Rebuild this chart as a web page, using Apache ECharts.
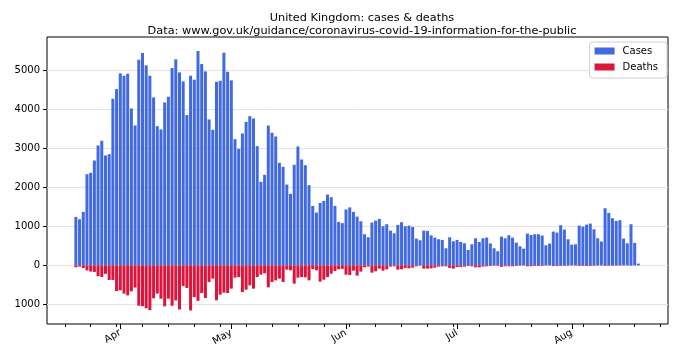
<!DOCTYPE html>
<html><head><meta charset="utf-8">
<script src="https://cdn.jsdelivr.net/npm/echarts@6/dist/echarts.min.js"></script>
<style>html,body{margin:0;padding:0;background:#fff}#c{width:680px;height:363px}</style>
</head><body><div id="c"></div>
<script>
// first bar date (20 Mar 2020), one bar per day
const firstDay = '2020-03-20';
const cases = [1240,1180,1368,2333,2368,2684,3068,3188,2812,2846,
4265,4513,4915,4855,4906,4017,3581,5265,5436,5120,
4855,4299,3564,3479,4171,4316,5051,5274,4940,4709,
3846,4855,4752,5487,5154,4966,3735,3470,4700,4726,
5444,4957,4735,3230,2983,3376,3675,3820,3760,3051,
2137,2316,3581,3393,3299,2624,2521,2068,1829,2573,
3043,2709,2564,2051,1521,1350,1598,1650,1812,1744,
1521,1111,1080,1430,1483,1368,1248,1128,795,718,
1094,1145,1188,1000,1051,889,820,1034,1103,1000,
1017,983,684,641,889,880,769,709,667,650,
436,718,615,650,598,564,393,538,692,598,
692,709,560,436,360,735,692,769,709,581,
487,427,812,778,795,795,761,513,556,863,
838,1026,915,667,530,538,1017,991,1043,1068,
923,692,607,1462,1342,1205,1137,1154,684,564,
1051,573,43];
const deaths = [50,35,70,130,160,170,280,300,220,375,
375,660,640,725,770,665,570,1035,1045,1100,
1150,845,725,855,1050,855,1035,900,1130,530,
580,1155,815,910,710,838,427,342,897,752,
700,709,598,316,299,684,624,513,598,299,
239,205,564,427,385,342,427,111,128,470,
316,299,308,385,94,128,419,368,299,214,
145,103,90,240,248,137,265,162,51,34,
188,154,85,137,103,34,26,111,103,68,
77,60,26,9,85,85,77,60,34,26,
26,68,85,43,43,34,17,26,51,51,
34,26,17,10,12,40,25,25,25,15,
8,6,25,25,18,18,15,6,5,20,
20,15,12,10,5,4,18,15,18,15,
12,5,4,15,12,10,8,8,3,2,
10,3,0];
const yTicks = [-1000, 0, 1000, 2000, 3000, 4000, 5000];
const monthTicks = ['2020-04-01','2020-05-01','2020-06-01','2020-07-01','2020-08-01'];
const monthLabels = ['Apr','May','Jun','Jul','Aug'];
const weekTicks = ['2020-03-17','2020-03-24','2020-03-31','2020-04-07','2020-04-14','2020-04-21','2020-04-28',
'2020-05-05','2020-05-12','2020-05-19','2020-05-26','2020-06-02','2020-06-09','2020-06-16','2020-06-23','2020-06-30',
'2020-07-07','2020-07-14','2020-07-21','2020-07-28','2020-08-04','2020-08-11','2020-08-18','2020-08-25'];

const DAY = 86400000;
const ts = s => Date.parse(s + 'T00:00:00Z');
const t0 = ts(firstDay);
const dates = cases.map((_, i) => t0 + i * DAY);
const monthTs = monthTicks.map(ts);
const weekTs = weekTicks.map(ts);
const xMin = ts('2020-04-01') - 19.8 * DAY;
const xMax = ts('2020-04-01') + 148 * DAY;

const font = 'DejaVu Sans';
const chart = echarts.init(document.getElementById('c'), null, {renderer: 'canvas'});
chart.setOption({
  animation: false,
  backgroundColor: '#fff',
  textStyle: {fontFamily: font},
  title: {
    text: 'United Kingdom: cases & deaths\nData: www.gov.uk/guidance/coronavirus-covid-19-information-for-the-public',
    left: 357, top: 6, textAlign: 'center',
    textStyle: {fontFamily: font, fontSize: 11.3, fontWeight: 'normal', color: '#000', lineHeight: 13.5}
  },
  legend: {
    data: ['Cases', 'Deaths'],
    orient: 'vertical', right: 13, top: 42,
    icon: 'rect', itemWidth: 20, itemHeight: 7, itemGap: 4,
    backgroundColor: '#fff', borderColor: '#d0d0d0', borderWidth: 1, borderRadius: 3,
    padding: [3, 9, 5, 5],
    textStyle: {fontFamily: font, fontSize: 10, color: '#000', lineHeight: 12, padding: [0, 0, 0, 3]}
  },
  grid: {left: 47, right: 12, top: 37, bottom: 39, show: true, borderColor: '#000', borderWidth: 1, backgroundColor: 'transparent', containLabel: false},
  xAxis: [{
    type: 'value', min: xMin, max: xMax, position: 'bottom',
    axisLine: {show: false, onZero: false},
    splitLine: {show: false},
    axisTick: {show: true, length: 5, lineStyle: {color: '#000', width: 1}, customValues: monthTs},
    axisLabel: {
      customValues: monthTs, rotate: 30, margin: 8, fontSize: 10, color: '#000', fontFamily: font,
      formatter: v => { for (let i = 0; i < monthTs.length; i++) if (Math.abs(monthTs[i] - v) < DAY / 2) return monthLabels[i]; return ''; }
    }
  }, {
    type: 'value', min: xMin, max: xMax, position: 'bottom', offset: 0,
    axisLine: {show: false, onZero: false}, splitLine: {show: false},
    axisTick: {show: true, length: 3, lineStyle: {color: '#000', width: 1}, customValues: weekTs},
    axisLabel: {show: false, customValues: weekTs}
  }],
  yAxis: {
    type: 'value', min: -1503, max: 5846,
    axisLine: {show: false, onZero: false},
    axisTick: {show: true, length: 4, lineStyle: {color: '#000', width: 1}, customValues: yTicks},
    axisLabel: {customValues: yTicks, fontSize: 10, color: '#000', margin: 7, fontFamily: font, formatter: v => String(Math.abs(v))},
    splitLine: {show: true, lineStyle: {color: '#e3e3e3', width: 1}}
  },
  series: [{
    name: 'Cases', type: 'bar', xAxisIndex: 0, barWidth: 3, barGap: '-100%',
    itemStyle: {color: '#4169E1'},
    data: dates.map((d, i) => [d, cases[i]])
  }, {
    name: 'Deaths', type: 'bar', xAxisIndex: 0, barWidth: 3, barGap: '-100%',
    itemStyle: {color: '#DC143C'},
    data: dates.map((d, i) => [d, -deaths[i]])
  }]
});
</script></body></html>
